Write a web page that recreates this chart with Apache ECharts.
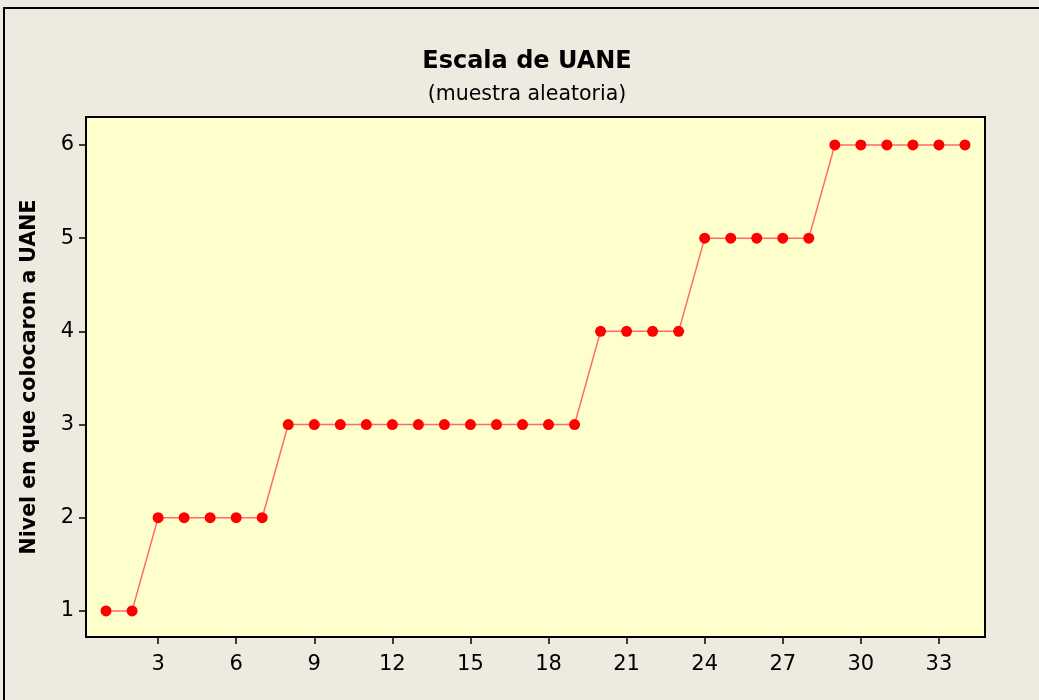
<!DOCTYPE html>
<html>
<head>
<meta charset="utf-8">
<script src="https://cdn.jsdelivr.net/npm/echarts@6/dist/echarts.min.js"></script>
<style>
  html, body { margin: 0; padding: 0; background: #EEEAE0; }
  #main { width: 1039px; height: 700px; }
</style>
</head>
<body>
<div id="main"></div>
<script>
// datos
var xValues = [1,2,3,4,5,6,7,8,9,10,11,12,13,14,15,16,17,18,19,20,21,22,23,24,25,26,27,28,29,30,31,32,33,34];
var niveles = [1,1,2,2,2,2,2,3,3,3,3,3,3,3,3,3,3,3,3,4,4,4,4,5,5,5,5,5,6,6,6,6,6,6];
var xTicks = [3,6,9,12,15,18,21,24,27,30,33];
var yTicks = [1,2,3,4,5,6];

var font = 'Tahoma, "DejaVu Sans", sans-serif';

var myChart = echarts.init(document.getElementById('main'));
myChart.setOption({
    backgroundColor: '#EEEAE0',
    animation: false,
    title: {
        text: 'Escala de UANE',
        subtext: '(muestra aleatoria)',
        left: 522,
        top: 45,
        textAlign: 'center',
        itemGap: 10,
        textStyle: { fontFamily: font, fontSize: 24, fontWeight: 'bold', color: '#000' },
        subtextStyle: { fontFamily: font, fontSize: 20.5, color: '#000' }
    },
    graphic: [{
        type: 'rect',
        shape: { x: 4, y: 8, width: 1040, height: 700 },
        style: { fill: 'none', stroke: '#000', lineWidth: 2 },
        z: 100
    }],
    grid: {
        left: 86, right: 54, top: 117, bottom: 63,
        show: true,
        backgroundColor: '#FFFFCC',
        borderColor: '#000',
        borderWidth: 2
    },
    xAxis: {
        type: 'value',
        min: 0.23, max: 34.77,
        axisLine: { show: false },
        splitLine: { show: false },
        axisTick: { show: true, customValues: xTicks, length: 7, lineStyle: { color: '#000', width: 1.5 } },
        axisLabel: { customValues: xTicks, fontFamily: font, fontSize: 21, color: '#000', margin: 17 }
    },
    yAxis: {
        type: 'value',
        min: 0.72, max: 6.3,
        name: 'Nivel en que colocaron a UANE',
        nameLocation: 'middle',
        nameGap: 46,
        nameTextStyle: { fontFamily: font, fontSize: 20.5, fontWeight: 'bold', color: '#000' },
        axisLine: { show: false },
        splitLine: { show: false },
        axisTick: { show: true, customValues: yTicks, length: 7, lineStyle: { color: '#000', width: 1.5 } },
        axisLabel: { customValues: yTicks, fontFamily: font, fontSize: 21, color: '#000', margin: 12 }
    },
    series: [{
        type: 'line',
        data: xValues.map(function (x, i) { return [x, niveles[i]]; }),
        symbol: 'circle',
        symbolSize: 11,
        lineStyle: { color: '#FF6A6A', width: 1.5 },
        itemStyle: { color: '#FF0000' }
    }]
});
</script>
</body>
</html>
